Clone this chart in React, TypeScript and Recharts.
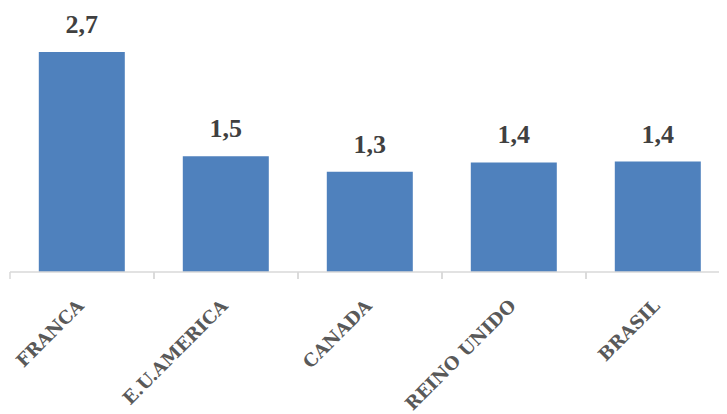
import { Bar, BarChart, LabelList, XAxis, YAxis } from 'recharts'

const countries = ['FRANCA', 'E.U.AMERICA', 'CANADA', 'REINO UNIDO', 'BRASIL']
const values = [2.7, 1.49, 1.31, 1.42, 1.43]

const data = countries.map((country, i) => ({ country, value: values[i] }))

const CHART_W = 722
const CHART_H = 406
const MARGIN = { top: 18, right: 0, bottom: 12, left: 2 }
const BAND = (CHART_W - MARGIN.left - MARGIN.right) / countries.length

const formatValue = (v: number) => v.toFixed(1).replace('.', ',')

function CountryTick(props: any) {
  const { x, y, payload } = props
  const lineY = y - 8
  const tx = x + 3
  const ty = y + 27
  return (
    <g>
      <line x1={x - BAND / 2} y1={lineY} x2={x - BAND / 2} y2={lineY + 7} stroke="#d9d9d9" strokeWidth={1.5} />
      <line x1={x + BAND / 2} y1={lineY} x2={x + BAND / 2} y2={lineY + 7} stroke="#d9d9d9" strokeWidth={1.5} />
      <text
        x={tx}
        y={ty}
        transform={`rotate(-45, ${tx}, ${ty})`}
        textAnchor="end"
        fill="#595959"
        fontFamily="'DejaVu Serif', serif"
        fontWeight="bold"
        fontSize={18}
      >
        {payload.value}
      </text>
    </g>
  )
}

export default function App() {
  return (
    <div style={{ width: 719, height: CHART_H, overflow: 'hidden' }}>
      <BarChart width={CHART_W} height={CHART_H} data={data} margin={MARGIN} barCategoryGap="20%">
        <XAxis
          dataKey="country"
          height={130}
          interval={0}
          tickLine={false}
          axisLine={{ stroke: '#d9d9d9', strokeWidth: 1.5 }}
          tick={<CountryTick />}
        />
        <YAxis hide domain={[0.15, 3]} allowDataOverflow />
        <Bar dataKey="value" fill="#4f81bd" isAnimationActive={false}>
          <LabelList
            dataKey="value"
            position="top"
            offset={19}
            formatter={(v: any) => formatValue(Number(v))}
            fill="#404040"
            fontFamily="'Liberation Serif', serif"
            fontWeight="bold"
            fontSize={26}
          />
        </Bar>
      </BarChart>
    </div>
  )
}
